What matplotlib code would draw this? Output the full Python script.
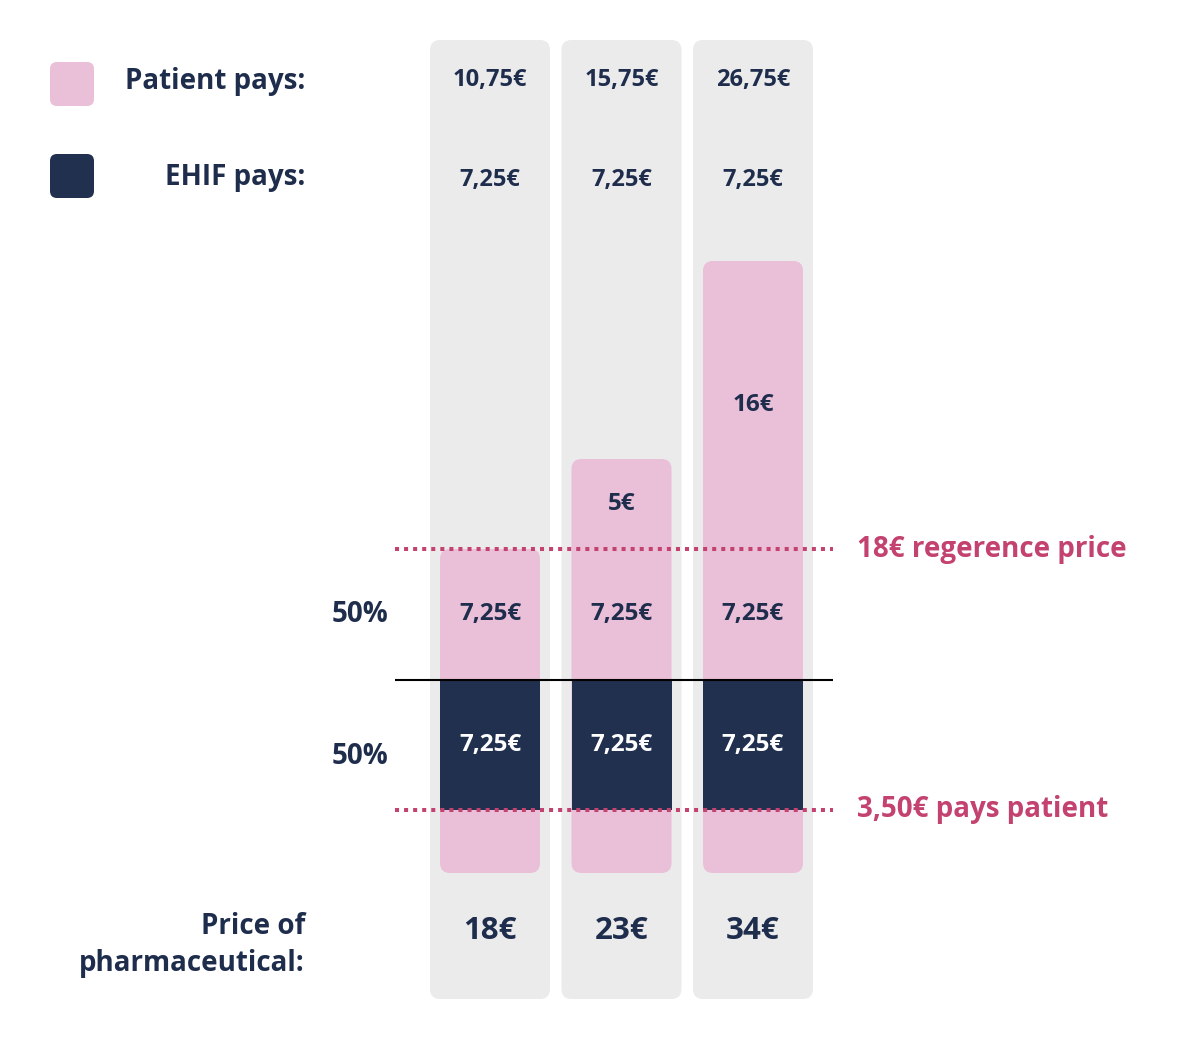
"""Reference pricing: who pays what for three pharmaceutical prices."""

import matplotlib
matplotlib.use("Agg")
import matplotlib.pyplot as plt
from matplotlib.patches import FancyBboxPatch
from matplotlib.transforms import blended_transform_factory

plt.rcParams["font.family"] = ["Open Sans", "DejaVu Sans"]
plt.rcParams["font.weight"] = "bold"

# data
prices = [18, 23, 34]
base_patient = [3.5, 3.5, 3.5]       # fixed 3,50€ paid by patient
ehif_share = [7.25, 7.25, 7.25]      # 50% of remainder up to reference price
patient_share = [7.25, 7.25, 7.25]   # other 50%
above_reference = [0, 5, 16]         # price above 18€ reference
patient_total = [10.75, 15.75, 26.75]
ehif_total = [7.25, 7.25, 7.25]
reference_price = 18

PINK = "#eabfd8"
NAVY = "#21304e"
GREY = "#ebebeb"
MAGENTA = "#c3426f"
TEXT = "#1f2d4d"

# pixel layout of the data axes (bar 0 centre, bar pitch, baseline, px per euro)
W, H = 1180, 1040
X0, DX, Y0, SY = 490, 131.5, 873, 18


def eur(v):
    if float(v).is_integer():
        return f"{int(v)}€"
    return f"{v:.2f}".replace(".", ",") + "€"


fig = plt.figure(figsize=(W / 100, H / 100), dpi=100)
ax = fig.add_axes([0, 0, 1, 1])
ax.set_xlim((0 - X0) / DX, (W - X0) / DX)
ax.set_ylim((Y0 - H) / SY, Y0 / SY)
ax.axis("off")

# overlay in pixel coordinates for free text
ov = fig.add_axes([0, 0, 1, 1], zorder=3)
ov.set_xlim(0, W)
ov.set_ylim(H, 0)
ov.axis("off")
ov.patch.set_alpha(0)

xs = list(range(len(prices)))
aspect = DX / SY
col_w = 120 / DX
bar_w = 100 / DX
r = 10 / DX

# grey background columns
col_bot, col_top = (Y0 - 999) / SY, (Y0 - 40) / SY
for x in xs:
    ax.add_patch(FancyBboxPatch((x - col_w / 2, col_bot), col_w, col_top - col_bot,
                                boxstyle=f"round,pad=0,rounding_size={r}",
                                mutation_aspect=aspect, fc=GREY, ec="none", zorder=0))

# pink full bar (patient) with rounded ends, navy EHIF share on top of it
for x, b, e, p, a in zip(xs, base_patient, ehif_share, patient_share, above_reference):
    total = b + e + p + a
    ax.add_patch(FancyBboxPatch((x - bar_w / 2, 0), bar_w, total,
                                boxstyle=f"round,pad=0,rounding_size={r}",
                                mutation_aspect=aspect, fc=PINK, ec="none", zorder=1))
ax.bar(xs, ehif_share, bottom=base_patient, width=bar_w, color=NAVY, zorder=2)

# reference lines
lx0, lx1 = (395 - X0) / DX, (833 - X0) / DX
split = [b + e for b, e in zip(base_patient, ehif_share)][0]
ax.hlines(split, lx0, lx1, color="black", lw=1.5, zorder=4)
ax.hlines([reference_price, base_patient[0]], lx0, lx1, color=MAGENTA, lw=2.9,
          linestyles=[(0, (1.0, 1.25))], zorder=4)
ax.text(lx1 + 24 / DX, reference_price, f"{reference_price}€ regerence price",
        color=MAGENTA, fontsize=20, va="center", ha="left")
ax.text(lx1 + 24 / DX, base_patient[0], f"{eur(base_patient[0])} pays patient",
        color=MAGENTA, fontsize=20, va="center", ha="left")

# labels in bars
for x, b, e, p, a in zip(xs, base_patient, ehif_share, patient_share, above_reference):
    ax.text(x, b + e / 2, eur(e), color="white", fontsize=17.5, ha="center", va="center", zorder=5)
    ax.text(x, b + e + p / 2, eur(p), color=TEXT, fontsize=17.5, ha="center", va="center", zorder=5)
    if a:
        ax.text(x, b + e + p + a / 2, eur(a), color=TEXT, fontsize=17.5,
                ha="center", va="center", zorder=5)

# header and footer rows: x in data, y in pixels
tr = blended_transform_factory(ax.transData, ov.transData)
for x, pt, et, pr in zip(xs, patient_total, ehif_total, prices):
    ov.text(x, 80, eur(pt), transform=tr, color=TEXT, fontsize=17, ha="center", va="center")
    ov.text(x, 180, eur(et), transform=tr, color=TEXT, fontsize=17, ha="center", va="center")
    ov.text(x, 931, eur(pr), transform=tr, color=TEXT, fontsize=22.5, ha="center", va="center")

# legend + row titles
for y, c in [(62, PINK), (154, NAVY)]:
    ov.add_patch(FancyBboxPatch((50, y), 44, 44, boxstyle="round,pad=0,rounding_size=7",
                                fc=c, ec="none"))
ov.text(305, 82, "Patient pays:", color=TEXT, fontsize=20, ha="right", va="center")
ov.text(305, 177, "EHIF pays:", color=TEXT, fontsize=20, ha="right", va="center")
ov.text(305, 945, "Price of\npharmaceutical:", color=TEXT, fontsize=20,
        ha="right", va="center", linespacing=1.4)
ov.text(388, 615, "50%", color=TEXT, fontsize=20, ha="right", va="center")
ov.text(388, 757, "50%", color=TEXT, fontsize=20, ha="right", va="center")

fig.savefig("out.png", dpi=100)
